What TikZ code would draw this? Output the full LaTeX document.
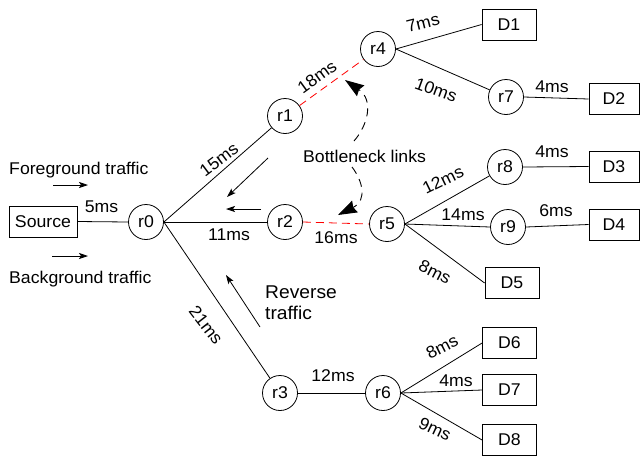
\documentclass[tikz,border=0pt]{standalone}
\usepackage{fontspec}
\setmainfont{Liberation Sans}[FakeStretch=1.04]
\usetikzlibrary{arrows.meta}
\begin{document}
\begin{tikzpicture}[x=1pt,y=-1pt,font=\fontsize{17}{20}\selectfont,
  rt/.style={circle,draw,line width=0.8pt,minimum size=35pt,inner sep=0pt},
  box/.style={draw,line width=0.8pt,minimum width=54pt,minimum height=31pt,inner sep=0pt},
  link/.style={line width=0.8pt},
  bneck/.style={red,line width=0.8pt,dash pattern=on 8pt off 5pt},
  lbl/.style={inner sep=0pt},
  flow/.style={line width=0.8pt,-{Stealth[length=9pt,width=6pt,inset=2pt]}},
  hint/.style={line width=0.9pt,dash pattern=on 8pt off 6pt,-{Stealth[length=19pt,width=13pt,inset=2pt]}}]
\useasboundingbox (0,0) rectangle (640,456);
% nodes
\node[box,minimum width=68pt] (src) at (43,221.5) {Source};
\node[rt] (r0) at (146,222) {r0};
\node[rt] (r1) at (285,116) {r1};
\node[rt] (r2) at (285,222) {r2};
\node[rt] (r3) at (280,393) {r3};
\node[rt] (r4) at (378,49) {r4};
\node[rt] (r5) at (387,224) {r5};
\node[rt] (r6) at (383,393) {r6};
\node[rt] (r7) at (506,97) {r7};
\node[rt] (r8) at (505,167) {r8};
\node[rt] (r9) at (508,227) {r9};
\node[box] (D1) at (509,24.5) {D1};
\node[box,minimum width=50pt] (D2) at (614,99) {D2};
\node[box,minimum width=50pt] (D3) at (614,166.5) {D3};
\node[box,minimum width=50pt] (D4) at (614,224.5) {D4};
\node[box] (D5) at (512,283) {D5};
\node[box] (D6) at (509.5,343) {D6};
\node[box] (D7) at (509.5,390) {D7};
\node[box] (D8) at (509.5,440) {D8};
% links
\draw[link] (src.east) -- (r0.west);
\draw[link] (r0.east) -- (r1);
\draw[link] (r0.east) -- (r2.west);
\draw[link] (r0.east) -- (r3);
\draw[bneck] (r1) -- (r4);
\draw[bneck] (r2.east) -- (r5.west);
\draw[link] (r4.east) -- (D1.west);
\draw[link] (r4.east) -- (r7);
\draw[link] (r7.east) -- (D2.west);
\draw[link] (r5.east) -- (r8);
\draw[link] (r5.east) -- (r9.west);
\draw[link] (r5.east) -- (D5.west);
\draw[link] (r8.east) -- (D3.west);
\draw[link] (r9.east) -- (D4.west);
\draw[link] (r3.east) -- (r6.west);
\draw[link] (r6.east) -- (D6.west);
\draw[link] (r6.east) -- (D7.west);
\draw[link] (r6.east) -- (D8.west);
% delay labels
\node[lbl] (l5) at (101.5,207) {5ms};
\node[lbl,rotate=37] (l15) at (219,160) {15ms};
\node[lbl] (l11) at (229,235) {11ms};
\node[lbl,rotate=-52] (l21) at (206,325) {21ms};
\node[lbl,rotate=36] (l18) at (317,77) {18ms};
\node[lbl,rotate=14] (l7) at (423,23) {7ms};
\node[lbl,rotate=-20] (l10) at (436,90) {10ms};
\node[lbl] (l4a) at (552,87) {4ms};
\node[lbl] (l16) at (336,238) {16ms};
\node[lbl,rotate=26] (l12a) at (443,180) {12ms};
\node[lbl] (l14) at (463,215) {14ms};
\node[lbl,rotate=-27] (l8a) at (435,272) {8ms};
\node[lbl] (l4b) at (552,152) {4ms};
\node[lbl] (l6) at (556,211) {6ms};
\node[lbl] (l12b) at (333,376) {12ms};
\node[lbl,rotate=27] (l8b) at (442,347) {8ms};
\node[lbl] (l4c) at (456,381) {4ms};
\node[lbl,rotate=-25] (l9) at (435,429) {9ms};
% traffic texts
\node[lbl,anchor=base west] (fg) at (9,174) {Foreground traffic};
\node[lbl,anchor=base west] (bg) at (9,283) {Background traffic};
\node[lbl,anchor=base west] (bn) at (303,162) {Bottleneck links};
\node[lbl,anchor=base west,font=\fontsize{18.5}{21}\selectfont] (rv1) at (265,298) {Reverse};
\node[lbl,anchor=base west,font=\fontsize{18.5}{21}\selectfont] (rv2) at (265,319) {traffic};
% flow arrows
\coordinate (fgA) at (53,185); \coordinate (fgB) at (88,185);
\coordinate (bgA) at (52,256); \coordinate (bgB) at (88,256);
\coordinate (ra1) at (268,158); \coordinate (rb1) at (227,197);
\coordinate (ra2) at (261,209); \coordinate (rb2) at (226,209);
\coordinate (ra3) at (260,327); \coordinate (rb3) at (226,275);
\draw[flow] (fgA) -- (fgB);
\draw[flow] (bgA) -- (bgB);
\draw[flow] (ra1) -- (rb1);
\draw[flow] (ra2) -- (rb2);
\draw[flow] (ra3) -- (rb3);
% bottleneck pointers
\coordinate (c1s) at (354,141); \coordinate (c1e) at (345,80);
\coordinate (c2s) at (352,167); \coordinate (c2e) at (338,215);
\draw[hint] (c1s) .. controls (368,125) and (374,100) .. (c1e);
\draw[hint] (c2s) .. controls (362,180) and (368,200) .. (c2e);
\end{tikzpicture}
\end{document}
